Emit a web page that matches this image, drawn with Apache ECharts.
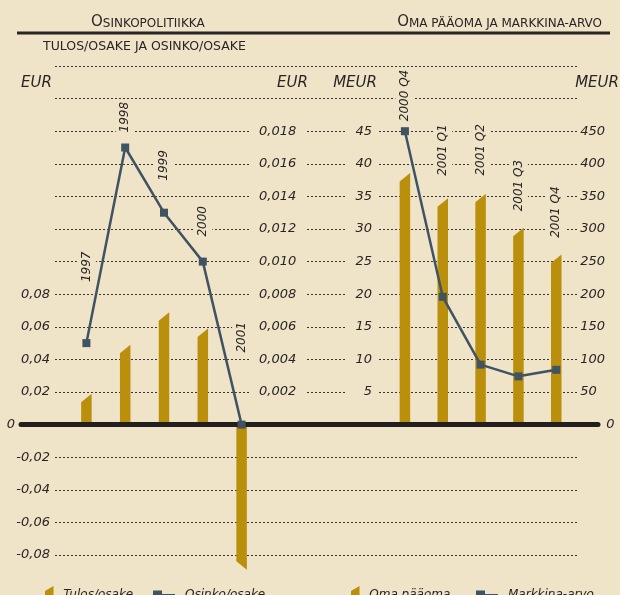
<!DOCTYPE html>
<html>
<head>
<meta charset="utf-8">
<script src="https://cdn.jsdelivr.net/npm/echarts@6/dist/echarts.min.js"></script>
<style>
  html, body { margin: 0; padding: 0; background: #efe3c8; }
  #main { width: 620px; height: 595px; }
</style>
</head>
<body>
<div id="main"></div>
<script>
  // left panel: tulos/osake ja osinko/osake
  var vuodet = ['1997', '1998', '1999', '2000', '2001']
  var tulosOsake = [0.019, 0.049, 0.069, 0.059, -0.089]
  var osinkoOsake = [0.005, 0.017, 0.013, 0.010, 0]

  // right panel: oma pääoma ja markkina-arvo
  var neljannekset = ['2000 Q4', '2001 Q1', '2001 Q2', '2001 Q3', '2001 Q4']
  var omaPaaoma = [38.6, 34.7, 35.4, 30.2, 26.1]
  var markkinaArvo = [450, 196, 92, 74, 84]

  // gap (px) between each line point and its rotated name
  var osinkoLabelGap = [61, 15, 32, 25, 72]
  var markkinaLabelGap = [10, 121, 189, 165, 132]

  var bg = '#efe3c8'
  var gold = '#b98f0b'
  var slate = '#3f5362'
  var ink = '#2a2525'
  var font = 'DejaVu Sans'

  var txt = { color: ink, fontFamily: font, fontStyle: 'italic', fontSize: 13 }
  var nameTxt = { color: ink, fontFamily: font, fontStyle: 'italic', fontSize: 15, verticalAlign: 'middle' }

  function slantBar(params, api) {
    var v = api.value(1)
    var top = api.coord([api.value(0), v])
    var base = api.coord([api.value(0), 0])
    var w = 10.5
    var cut = v >= 0 ? 8.5 : -8.5
    return {
      type: 'polygon',
      shape: {
        points: [
          [top[0] - w / 2, base[1]],
          [top[0] + w / 2, base[1]],
          [top[0] + w / 2, top[1]],
          [top[0] - w / 2, top[1] + cut],
        ],
      },
      style: api.style(),
    }
  }

  function pointLabels(values, gaps) {
    return values.map(function (v, i) {
      return { value: v, label: { distance: gaps[i] - 4 - 2 } }
    })
  }

  var pointLabel = {
    show: true,
    position: 'top',
    rotate: 90,
    align: 'left',
    verticalAlign: 'middle',
    formatter: function (p) { return p.name },
    color: ink,
    fontFamily: font,
    fontStyle: 'italic',
    fontSize: 12,
    backgroundColor: bg,
    padding: [5, 2, 2, 2],
  }

  var headRich = {
    a: { fontFamily: font, fontSize: 15, fontWeight: 'normal', color: ink, verticalAlign: 'bottom', lineHeight: 16 },
    b: { fontFamily: font, fontSize: 12, fontWeight: 'normal', color: ink, verticalAlign: 'bottom', lineHeight: 16 },
  }

  var barIcon = 'path://M0,6 L10,0 L10,20 L0,20 Z'
  var lineIcon = 'path://M0,0 H9 V9 H0 Z M9,3.5 H22 V5.5 H9 Z'
  var legendTxt = { color: ink, fontFamily: font, fontStyle: 'italic', fontSize: 12 }

  var chart = echarts.init(document.getElementById('main'))
  chart.setOption({
    backgroundColor: bg,
    animation: false,
    title: [
      {
        text: '{a|O}{b|SINKOPOLITIIKKA}',
        left: 91, top: 14, padding: 0,
        textStyle: { fontWeight: 'normal', rich: headRich },
      },
      {
        text: '{a|O}{b|MA PÄÄOMA JA MARKKINA-ARVO}',
        right: 18, top: 14, padding: 0,
        textStyle: { fontWeight: 'normal', rich: headRich },
      },
      {
        text: 'TULOS/OSAKE JA OSINKO/OSAKE',
        left: 43, top: 40, padding: 0,
        textStyle: { fontFamily: font, fontSize: 12.5, fontWeight: 'normal', color: ink },
      },
    ],
    graphic: [
      { type: 'rect', shape: { x: 17, y: 31.5, width: 593, height: 3 }, style: { fill: ink } },
    ],
    legend: [
      { left: 40, top: 581, icon: barIcon, itemWidth: 10, itemHeight: 17, data: ['Tulos/osake'], textStyle: Object.assign({ padding: [0, 0, 0, 4] }, legendTxt) },
      { left: 148, top: 584, icon: lineIcon, itemWidth: 22, itemHeight: 10, data: ['Osinko/osake'], textStyle: Object.assign({ padding: [0, 0, 0, 5] }, legendTxt) },
      { left: 346, top: 581, icon: barIcon, itemWidth: 10, itemHeight: 17, data: ['Oma pääoma'], textStyle: Object.assign({ padding: [0, 0, 0, 4] }, legendTxt) },
      { left: 471, top: 584, icon: lineIcon, itemWidth: 22, itemHeight: 10, data: ['Markkina-arvo'], textStyle: Object.assign({ padding: [0, 0, 0, 5] }, legendTxt) },
    ],
    grid: [
      { left: 55, right: 42, top: 66, height: 489 },
      { left: 67, width: 194, top: 66, height: 489 },
      { left: 386, width: 193, top: 66, height: 489 },
      { left: 21, right: 22, top: 66, height: 358.6 },
    ],
    xAxis: [
      { gridIndex: 0, type: 'value', show: false },
      { gridIndex: 1, type: 'category', data: vuodet, show: false },
      { gridIndex: 2, type: 'category', data: neljannekset, show: false },
      {
        gridIndex: 3, type: 'value', min: 0, max: 1, z: 5,
        axisLine: { show: true, onZero: false, lineStyle: { color: '#231f1f', width: 5 } },
        axisTick: { show: false }, axisLabel: { show: false }, splitLine: { show: false },
      },
    ],
    yAxis: [
      {
        // gridlines + left EUR axis
        gridIndex: 0, type: 'value', min: -0.08, max: 0.22, interval: 0.02,
        name: 'EUR', nameLocation: 'end', nameGap: -17,
        nameTextStyle: Object.assign({ align: 'right', padding: [0, 3, 0, 0] }, nameTxt),
        axisLine: { show: false }, axisTick: { show: false },
        axisLabel: Object.assign({
          margin: 5,
          formatter: function (v) {
            if (Math.abs(v) < 1e-9) return '{z|0}'
            if (Math.abs(v) > 0.0801) return ''
            return v.toFixed(2).replace('.', ',')
          },
          rich: { z: { color: ink, fontFamily: font, fontStyle: 'italic', fontSize: 13, padding: [0, 35, 0, 0] } },
        }, txt),
        splitLine: { lineStyle: { type: [2, 2], color: '#3a3434', width: 1 } },
      },
      { gridIndex: 1, type: 'value', min: -0.08, max: 0.22, show: false, splitLine: { show: false } },
      {
        // right EUR axis for osinko/osake
        gridIndex: 1, type: 'value', position: 'right', offset: -11, z: 3,
        min: -0.008, max: 0.022, interval: 0.002,
        name: 'EUR', nameLocation: 'end', nameGap: -17,
        nameTextStyle: Object.assign({ align: 'left', padding: [0, 0, 0, 27] }, nameTxt),
        axisLine: { show: false }, axisTick: { show: false }, splitLine: { show: false },
        axisLabel: {
          margin: 0,
          formatter: function (v) {
            if (v < 0.0019 || v > 0.0181) return ''
            return '{m|' + v.toFixed(3).replace('.', ',') + '}'
          },
          rich: { m: { color: ink, fontFamily: font, fontStyle: 'italic', fontSize: 13, backgroundColor: bg, padding: [2, 10, 2, 9] } },
        },
      },
      {
        // MEUR axis for oma pääoma
        gridIndex: 2, type: 'value', position: 'left', offset: 8, z: 3,
        min: -20, max: 55, interval: 5,
        name: 'MEUR', nameLocation: 'end', nameGap: -17,
        nameTextStyle: Object.assign({ align: 'right', padding: [0, 1, 0, 0] }, nameTxt),
        axisLine: { show: false }, axisTick: { show: false }, splitLine: { show: false },
        axisLabel: {
          margin: 0,
          formatter: function (v) {
            if (v < 5 || v > 45) return ''
            return '{m|' + v + '}'
          },
          rich: { m: { color: ink, fontFamily: font, fontStyle: 'italic', fontSize: 13, backgroundColor: bg, width: 25, align: 'right', padding: [2, 6, 2, 0] } },
        },
      },
      {
        // MEUR axis for markkina-arvo
        gridIndex: 2, type: 'value', position: 'right',
        min: -200, max: 550, interval: 50,
        name: 'MEUR', nameLocation: 'end', nameGap: -17,
        nameTextStyle: Object.assign({ align: 'left', padding: [0, 0, 0, 0] }, nameTxt),
        axisLine: { show: false }, axisTick: { show: false }, splitLine: { show: false },
        axisLabel: Object.assign({
          margin: 5,
          formatter: function (v) {
            if (v === 0) return '{z|0}'
            if (v < 0 || v > 450) return ''
            return v
          },
          rich: { z: { color: ink, fontFamily: font, fontStyle: 'italic', fontSize: 13, padding: [0, 0, 0, 26] } },
        }, txt),
      },
      { gridIndex: 3, type: 'value', min: 0, max: 1, show: false },
    ],
    series: [
      {
        name: 'Tulos/osake', type: 'custom', xAxisIndex: 1, yAxisIndex: 1, z: 2,
        renderItem: slantBar, encode: { x: 0, y: 1 },
        itemStyle: { color: gold },
        data: tulosOsake.map(function (v, i) { return [i, v] }),
      },
      {
        name: 'Osinko/osake', type: 'line', xAxisIndex: 1, yAxisIndex: 2, z: 6,
        symbol: 'rect', symbolSize: 8,
        lineStyle: { color: slate, width: 2.5 }, itemStyle: { color: slate },
        label: pointLabel,
        data: pointLabels(osinkoOsake, osinkoLabelGap),
      },
      {
        name: 'Oma pääoma', type: 'custom', xAxisIndex: 2, yAxisIndex: 3, z: 2,
        renderItem: slantBar, encode: { x: 0, y: 1 },
        itemStyle: { color: gold },
        data: omaPaaoma.map(function (v, i) { return [i, v] }),
      },
      {
        name: 'Markkina-arvo', type: 'line', xAxisIndex: 2, yAxisIndex: 4, z: 6,
        symbol: 'rect', symbolSize: 8,
        lineStyle: { color: slate, width: 2.5 }, itemStyle: { color: slate },
        label: pointLabel,
        data: pointLabels(markkinaArvo, markkinaLabelGap),
      },
    ],
  })
</script>
</body>
</html>
